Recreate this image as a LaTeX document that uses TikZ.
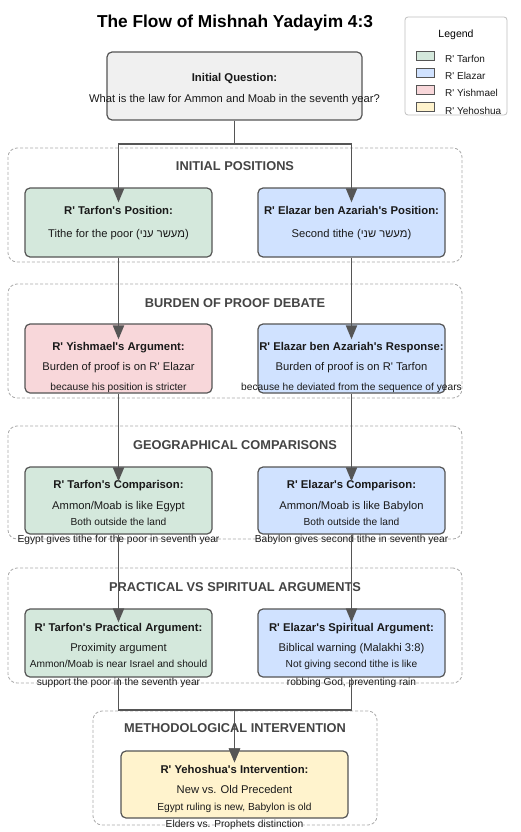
\documentclass[tikz,border=0pt]{standalone}
\usepackage{fontspec}
\setmainfont{Liberation Sans}[Ligatures=TeXOff]
\newfontfamily\hebfont[Script=Hebrew]{Liberation Sans}
\TeXXeTstate=1
\usetikzlibrary{arrows.meta}
\definecolor{tarfonc}{HTML}{D4E8DC}
\definecolor{elazarc}{HTML}{D0E2FF}
\definecolor{yishc}{HTML}{F8D7DA}
\definecolor{yehc}{HTML}{FFF3CD}
\definecolor{qc}{HTML}{F0F0F0}
\definecolor{edgec}{HTML}{555555}
\definecolor{clc}{HTML}{AAAAAA}
\definecolor{ctc}{HTML}{444444}
\definecolor{txc}{HTML}{1A1A1A}
\newcommand\hb[1]{{\hebfont\beginR #1\endR}}
\begin{document}
\begin{tikzpicture}[x=1pt,y=-1pt,
  box/.style={draw=edgec, line width=1.2pt, rounded corners=5pt, inner sep=0pt,
    minimum width=187pt, minimum height=69pt},
  cluster/.style={draw=clc, dash pattern=on 3pt off 2pt, line width=0.8pt,
    rounded corners=9pt, fill=white, inner sep=0pt},
  ttl/.style={font=\fontsize{11.3}{13}\selectfont\bfseries, text=txc, inner sep=0pt, anchor=base},
  bod/.style={font=\fontsize{11.2}{13}\selectfont, text=txc, inner sep=0pt, anchor=base},
  sml/.style={font=\fontsize{10.2}{12}\selectfont, text=txc, inner sep=0pt, anchor=base},
  ctitle/.style={font=\fontsize{12.8}{15}\selectfont\bfseries, text=ctc, inner sep=0pt, anchor=base},
  leg/.style={font=\fontsize{10}{12}\selectfont, text=txc, inner sep=0pt, anchor=base west},
  swatch/.style={draw=edgec, line width=1pt, minimum width=18pt, minimum height=9pt, inner sep=0pt},
  edge/.style={draw=edgec, line width=1.9pt, -{Triangle[width=11pt,length=14pt]}}
]
\useasboundingbox (0,0) rectangle (520,832);
\fill[white] (0,0) rectangle (520,832);

% title
\node[font=\fontsize{17.3}{20}\selectfont\bfseries, inner sep=0pt, anchor=base] (title) at (235,28) {The Flow of Mishnah Yadayim 4:3};

% legend
\begin{scope}
\clip[rounded corners=3pt] (405,17) rectangle (507,115);
\fill[white] (405,17) rectangle (507,115);
\node[font=\fontsize{10.5}{12}\selectfont, inner sep=0pt, anchor=base] (legt) at (456,37.5) {Legend};
\node[swatch, fill=tarfonc] (s1) at (425,56.5) {};
\node[swatch, fill=elazarc] (s2) at (425,73.5) {};
\node[swatch, fill=yishc] (s3) at (425,90.5) {};
\node[swatch, fill=yehc] (s4) at (425,107.5) {};
\node[leg] (l1) at (445,63) {R' Tarfon};
\node[leg] (l2) at (445,80) {R' Elazar};
\node[leg] (l3) at (445,97) {R' Yishmael};
\node[leg] (l4) at (445,114) {R' Yehoshua};
\end{scope}
\draw[draw=black!25, line width=0.8pt, rounded corners=3pt] (405,17) rectangle (507,115);

% clusters
\node[cluster, minimum width=454pt, minimum height=114pt] (c1) at (235,205) {};
\node[cluster, minimum width=454pt, minimum height=114pt] (c2) at (235,341) {};
\node[cluster, minimum width=454pt, minimum height=113pt] (c3) at (235,482.5) {};
\node[cluster, minimum width=454pt, minimum height=115pt] (c4) at (235,625.5) {};
\node[cluster, minimum width=284pt, minimum height=114pt] (c5) at (235,768) {};
\node[ctitle] (ct1) at (235,170.5) {INITIAL POSITIONS};
\node[ctitle] (ct2) at (235,307.5) {BURDEN OF PROOF DEBATE};
\node[ctitle] (ct3) at (235,449.5) {GEOGRAPHICAL COMPARISONS};
\node[ctitle] (ct4) at (235,591.5) {PRACTICAL VS SPIRITUAL ARGUMENTS};
\node[ctitle] (ct5) at (235,732.5) {METHODOLOGICAL INTERVENTION};

% boxes
\node[box, fill=qc, minimum width=255pt, minimum height=68pt] (q) at (234.5,86) {};
\node[box, fill=tarfonc] (tp) at (118.5,222.5) {};
\node[box, fill=elazarc] (ep) at (351.5,222.5) {};
\node[box, fill=yishc] (yi) at (118.5,358.5) {};
\node[box, fill=elazarc] (er) at (351.5,358.5) {};
\node[box, fill=tarfonc, minimum height=67pt] (tc) at (118.5,500.5) {};
\node[box, fill=elazarc, minimum height=67pt] (ec) at (351.5,500.5) {};
\node[box, fill=tarfonc, minimum height=68pt] (tpr) at (118.5,643) {};
\node[box, fill=elazarc, minimum height=68pt] (esp) at (351.5,643) {};
\node[box, fill=yehc, minimum width=227pt, minimum height=67pt] (yh) at (234.5,784.5) {};

% texts
\node[ttl] (qt) at (234.5,82) {Initial Question:};
\node[bod] (qb) at (234.5,102.5) {What is the law for Ammon and Moab in the seventh year?};

\node[ttl] (tpt) at (118.5,214) {R' Tarfon's Position:};
\node[bod] (tpb) at (118.5,237) {Tithe for the poor (\hb{מעשר עני})};
\node[ttl] (ept) at (351.5,214) {R' Elazar ben Azariah's Position:};
\node[bod] (epb) at (351.5,237) {Second tithe (\hb{מעשר שני})};

\node[ttl] (yit) at (118.5,350) {R' Yishmael's Argument:};
\node[bod] (yib) at (118.5,370) {Burden of proof is on R' Elazar};
\node[sml] (yis) at (118.5,390.5) {because his position is stricter};
\node[ttl] (ert) at (351.5,350) {R' Elazar ben Azariah's Response:};
\node[bod] (erb) at (351.5,370) {Burden of proof is on R' Tarfon};
\node[sml] (ers) at (351.5,390.5) {because he deviated from the sequence of years};

\node[ttl] (tct) at (118.5,488) {R' Tarfon's Comparison:};
\node[bod] (tcb) at (118.5,509) {Ammon/Moab is like Egypt};
\node[sml] (tcs) at (118.5,525.5) {Both outside the land};
\node[sml] (tcs2) at (118.5,542.5) {Egypt gives tithe for the poor in seventh year};
\node[ttl] (ect) at (351.5,488) {R' Elazar's Comparison:};
\node[bod] (ecb) at (351.5,509) {Ammon/Moab is like Babylon};
\node[sml] (ecs) at (351.5,525.5) {Both outside the land};
\node[sml] (ecs2) at (351.5,542.5) {Babylon gives second tithe in seventh year};

\node[ttl] (tprt) at (118.5,631) {R' Tarfon's Practical Argument:};
\node[bod] (tprb) at (118.5,651) {Proximity argument};
\node[sml] (tprs) at (118.5,667.5) {Ammon/Moab is near Israel and should};
\node[sml] (tprs2) at (118.5,685.5) {support the poor in the seventh year};
\node[ttl] (espt) at (351.5,631) {R' Elazar's Spiritual Argument:};
\node[bod] (espb) at (351.5,651) {Biblical warning (Malakhi 3:8)};
\node[sml] (esps) at (351.5,667.5) {Not giving second tithe is like};
\node[sml] (esps2) at (351.5,685.5) {robbing God, preventing rain};

\node[ttl] (yht) at (234.5,773) {R' Yehoshua's Intervention:};
\node[bod] (yhb) at (234.5,793) {New vs. Old Precedent};
\node[sml] (yhs) at (234.5,810.5) {Egypt ruling is new, Babylon is old};
\node[sml] (yhs2) at (234.5,827.5) {Elders vs. Prophets distinction};

% edges
\draw[edge] (q.south) -- ++(0,23) -| ([yshift=-15pt]tp.north);
\draw[edge] (q.south) -- ++(0,23) -| ([yshift=-15pt]ep.north);
\draw[edge] (tp.south) -- ([yshift=-16pt]yi.north);
\draw[edge] (ep.south) -- ([yshift=-16pt]er.north);
\draw[edge] (yi.south) -- ([yshift=-15pt]tc.north);
\draw[edge] (er.south) -- ([yshift=-15pt]ec.north);
\draw[edge] (tc.south) -- ([yshift=-14pt]tpr.north);
\draw[edge] (ec.south) -- ([yshift=-14pt]esp.north);
\draw[edge] (tpr.south) -- ++(0,32) -| ([yshift=-12pt]yh.north);
\draw[edge] (esp.south) -- ++(0,32) -| ([yshift=-12pt]yh.north);
\end{tikzpicture}
\end{document}
